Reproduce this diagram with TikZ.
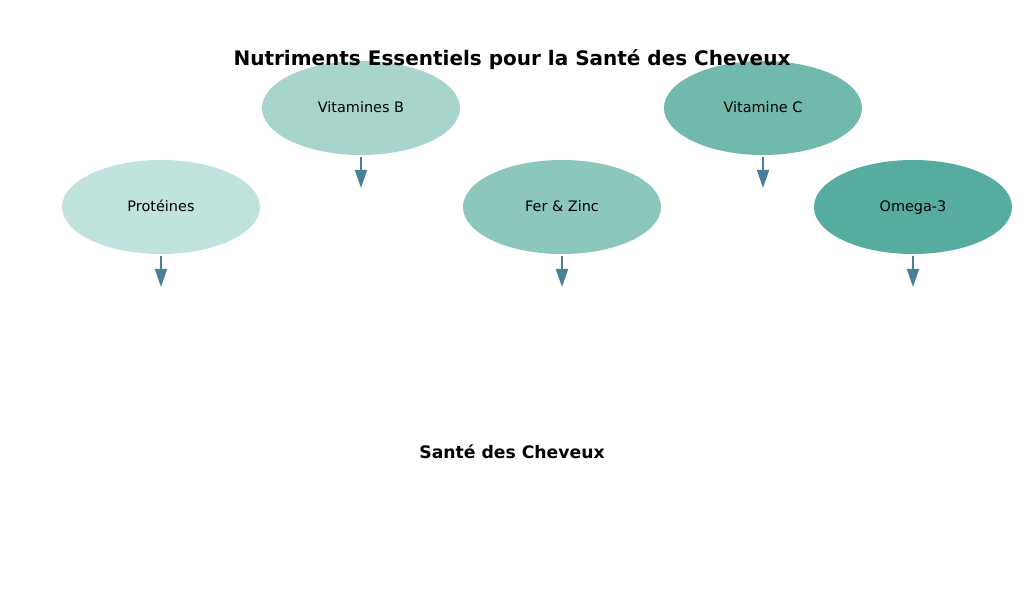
\documentclass[tikz,border=0pt]{standalone}
\usepackage{fontspec}
\setmainfont{DejaVu Sans}
\usetikzlibrary{shapes.geometric,arrows.meta}
\definecolor{proteines}{HTML}{C1E3DD}
\definecolor{vitb}{HTML}{A8D5CB}
\definecolor{ferzinc}{HTML}{8CC7BB}
\definecolor{vitc}{HTML}{72B9AD}
\definecolor{omega}{HTML}{56AC9F}
\definecolor{fleche}{HTML}{4A7F99}
\begin{document}
\begin{tikzpicture}[x=0.72pt,y=-0.72pt,
  nutriment/.style={ellipse,minimum width=142.6pt,minimum height=67.7pt,inner sep=0pt,text height=7.5pt,text depth=1pt,font=\fontsize{10.4}{12}\selectfont},
  flux/.style={draw=fleche,line width=1.44pt,-{Triangle[width=8.6pt,length=13pt]},shorten <=1.4pt},
  titre/.style={font=\fontsize{14.4}{17}\selectfont\bfseries}]
\useasboundingbox (0,0) rectangle (1024,611);
\node[nutriment,fill=proteines] (pro) at (161,207) {Protéines};
\node[nutriment,fill=vitb] (vitb) at (361,108) {Vitamines B};
\node[nutriment,fill=ferzinc] (fer) at (562,207) {Fer \& Zinc};
\node[nutriment,fill=vitc] (vitc) at (763,108) {Vitamine C};
\node[nutriment,fill=omega] (omega) at (913,207) {Omega-3};
\node[titre] (titre) at (512,60) {Nutriments Essentiels pour la Santé des Cheveux};
\node[font=\fontsize{12.4}{15}\selectfont\bfseries] (sante) at (512,452) {Santé des Cheveux};
\coordinate (pro-fin) at (161,287);
\coordinate (vitb-fin) at (361,188);
\coordinate (fer-fin) at (562,287);
\coordinate (vitc-fin) at (763,188);
\coordinate (omega-fin) at (913,287);
\draw[flux] (pro) -- (pro-fin);
\draw[flux] (vitb) -- (vitb-fin);
\draw[flux] (fer) -- (fer-fin);
\draw[flux] (vitc) -- (vitc-fin);
\draw[flux] (omega) -- (omega-fin);
\end{tikzpicture}
\end{document}
